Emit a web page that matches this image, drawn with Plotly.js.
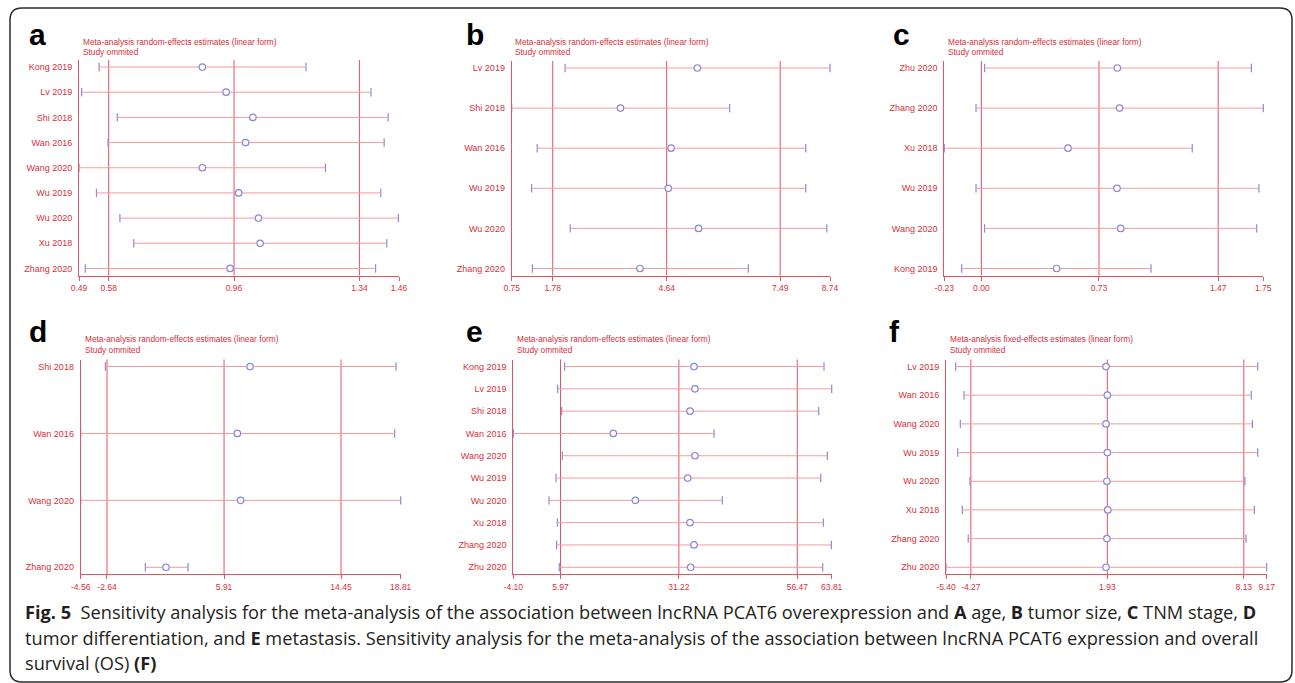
<!DOCTYPE html>
<html><head><meta charset="utf-8">
<script src="https://cdn.plot.ly/plotly-3.0.1.min.js"></script>
<style>html,body{margin:0;padding:0;background:#fff}#chart{width:1295px;height:683px}</style>
</head><body><div id="chart"></div>
<script>
// ---------- DATA ----------
// Panel a: age
const studiesA = ['Kong 2019','Lv 2019','Shi 2018','Wan 2016','Wang 2020','Wu 2019','Wu 2020','Xu 2018','Zhang 2020'];
const estA = [0.864,0.936,1.017,0.995,0.864,0.974,1.034,1.039,0.948];
const loA  = [0.551,0.498,0.606,0.578,0.490,0.543,0.614,0.656,0.509];
const hiA  = [1.178,1.375,1.427,1.415,1.237,1.405,1.458,1.423,1.389];
const ticksA = [0.49,0.58,0.96,1.34,1.46];
const tickTextA = ['0.49','0.58','0.96','1.34','1.46'];
// Panel b: tumor size
const studiesB = ['Lv 2019','Shi 2018','Wan 2016','Wu 2019','Wu 2020','Zhang 2020'];
const estB = [5.41,3.48,4.75,4.68,5.44,3.97];
const loB  = [2.09,0.75,1.39,1.25,2.22,1.27];
const hiB  = [8.74,6.22,8.13,8.13,8.66,6.69];
const ticksB = [0.75,1.78,4.64,7.49,8.74];
const tickTextB = ['0.75','1.78','4.64','7.49','8.74'];
// Panel c: TNM stage
const studiesC = ['Zhu 2020','Zhang 2020','Xu 2018','Wu 2019','Wang 2020','Kong 2019'];
const estC = [0.844,0.858,0.538,0.842,0.865,0.467];
const loC  = [0.020,-0.033,-0.230,-0.033,0.020,-0.122];
const hiC  = [1.676,1.750,1.309,1.723,1.709,1.053];
const ticksC = [-0.23,0.00,0.73,1.47,1.75];
const tickTextC = ['-0.23','0.00','0.73','1.47','1.75'];
// Panel d: tumor differentiation
const studiesD = ['Shi 2018','Wan 2016','Wang 2020','Zhang 2020'];
const estD = [7.81,6.88,7.12,1.67];
const loD  = [-2.76,-4.56,-4.56,0.16];
const hiD  = [18.47,18.37,18.81,3.28];
const ticksD = [-4.56,-2.64,5.91,14.45,18.81];
const tickTextD = ['-4.56','-2.64','5.91','14.45','18.81'];
// Panel e: metastasis
const studiesE = ['Kong 2019','Lv 2019','Shi 2018','Wan 2016','Wang 2020','Wu 2019','Wu 2020','Xu 2018','Zhang 2020','Zhu 2020'];
const estE = [34.44,34.65,33.59,17.23,34.65,33.09,21.93,33.59,34.44,33.73];
const loE  = [6.85,5.36,6.21,-4.10,6.35,5.00,3.51,5.29,5.14,5.71];
const hiE  = [62.17,63.81,61.04,38.71,62.88,61.46,40.49,62.03,63.74,61.89];
const ticksE = [-4.10,5.97,31.22,56.47,63.81];
const tickTextE = ['-4.10','5.97','31.22','56.47','63.81'];
// Panel f: overall survival
const studiesF = ['Lv 2019','Wan 2016','Wang 2020','Wu 2019','Wu 2020','Xu 2018','Zhang 2020','Zhu 2020'];
const estF = [1.87,1.93,1.87,1.93,1.91,1.95,1.91,1.87];
const loF  = [-4.96,-4.58,-4.75,-4.87,-4.31,-4.66,-4.39,-5.40];
const hiF  = [8.76,8.47,8.52,8.76,8.18,8.61,8.23,9.17];
const ticksF = [-5.40,-4.27,1.93,8.13,9.17];
const tickTextF = ['-5.40','-4.27','1.93','8.13','9.17'];

const titleRandom = 'Meta-analysis random-effects estimates (linear form)';
const titleFixed = 'Meta-analysis fixed-effects estimates (linear form)';
const subTitle = 'Study ommited';
const captionLines = [
  '<b>Fig. 5</b>  Sensitivity analysis for the meta-analysis of the association between lncRNA PCAT6 overexpression and <b>A</b> age, <b>B</b> tumor size, <b>C</b> TNM stage, <b>D</b>',
  'tumor differentiation, and <b>E</b> metastasis. Sensitivity analysis for the meta-analysis of the association between lncRNA PCAT6 expression and overall',
  'survival (OS) <b>(F)</b>'
];

// ---------- LAYOUT ----------
const W = 1295, H = 683;
const px = x => x / W, py = y => 1 - y / H;
const RED = '#d6303c', LINE = '#e25563', PINK = '#f09aa2', LAV = '#8e88d4';
const FONT = 'Liberation Sans, Arial, sans-serif';

const panels = [
  {label:'a', title:titleRandom, studies:studiesA, est:estA, lo:loA, hi:hiA, ticks:ticksA, tt:tickTextA, x0:79,    x1:399,    y0:60,  y1:275.5, lx:27,  ly:34,  tx:81,  ty:42},
  {label:'b', title:titleRandom, studies:studiesB, est:estB, lo:loB, hi:hiB, ticks:ticksB, tt:tickTextB, x0:511.7, x1:830,    y0:61,  y1:275.5, lx:464, ly:34,  tx:513, ty:42},
  {label:'c', title:titleRandom, studies:studiesC, est:estC, lo:loC, hi:hiC, ticks:ticksC, tt:tickTextC, x0:944.3, x1:1263.3, y0:61,  y1:275.5, lx:891, ly:34,  tx:946, ty:42},
  {label:'d', title:titleRandom, studies:studiesD, est:estD, lo:loD, hi:hiD, ticks:ticksD, tt:tickTextD, x0:80.7,  x1:400.7,  y0:359.5, y1:574.3, lx:27,  ly:331, tx:83,  ty:339},
  {label:'e', title:titleRandom, studies:studiesE, est:estE, lo:loE, hi:hiE, ticks:ticksE, tt:tickTextE, x0:513.3, x1:831.7,  y0:359.5, y1:574.3, lx:464, ly:331, tx:515, ty:339},
  {label:'f', title:titleFixed,  studies:studiesF, est:estF, lo:loF, hi:hiF, ticks:ticksF, tt:tickTextF, x0:946,   x1:1266.7, y0:359.5, y1:574.3, lx:887, ly:331, tx:948, ty:339}
];

const data = [], annotations = [], shapes = [];
const layout = {
  width: W, height: H, margin: {l:0, r:0, t:0, b:0},
  paper_bgcolor: '#fff', plot_bgcolor: 'rgba(0,0,0,0)',
  showlegend: false, font: {family: FONT, color: RED}
};

panels.forEach((p, i) => {
  const s = i === 0 ? '' : String(i + 1);
  const xa = 'x' + s, ya = 'y' + s;
  const n = p.studies.length;
  const pad = 0.035 * (n - 1);
  layout['xaxis' + s] = {
    domain: [px(p.x0), px(p.x1)], anchor: ya,
    range: [p.ticks[0], p.ticks[p.ticks.length - 1]],
    tickmode: 'array', tickvals: p.ticks, ticktext: p.tt,
    ticks: 'outside', ticklen: 4, tickwidth: 1, tickcolor: LINE,
    showline: true, linecolor: LINE, linewidth: 1,
    showgrid: false, zeroline: false, fixedrange: true,
    tickfont: {family: FONT, size: 8.5, color: RED}
  };
  layout['yaxis' + s] = {
    domain: [py(p.y1), py(p.y0)], anchor: xa,
    type: 'category', categoryorder: 'array', categoryarray: p.studies,
    range: [n - 1 + pad, -pad],
    ticks: '', showline: true, linecolor: LINE, linewidth: 1,
    showgrid: false, zeroline: false, fixedrange: true,
    ticklabelstandoff: 4,
    tickfont: {family: FONT, size: 9, color: RED}
  };
  // reference lines at the three inner tick values
  p.ticks.slice(1, -1).forEach(v => shapes.push({
    type: 'line', xref: xa, yref: ya + ' domain', x0: v, x1: v, y0: 0, y1: 1,
    line: {color: LINE, width: 1}, layer: 'below'
  }));
  // caps at interval ends
  data.push({
    type: 'scatter', mode: 'markers', xaxis: xa, yaxis: ya, cliponaxis: false,
    x: p.lo.concat(p.hi), y: p.studies.concat(p.studies), hoverinfo: 'skip',
    marker: {symbol: 'line-ns-open', size: 6, color: LAV, line: {color: LAV, width: 1.2}}
  });
  // estimates with confidence intervals
  data.push({
    type: 'scatter', mode: 'markers', xaxis: xa, yaxis: ya, cliponaxis: false,
    x: p.est, y: p.studies,
    error_x: {type: 'data', symmetric: false,
      array: p.hi.map((h, k) => h - p.est[k]),
      arrayminus: p.lo.map((l, k) => p.est[k] - l),
      color: PINK, thickness: 1, width: 0},
    marker: {symbol: 'circle', size: 6.5, color: '#ffffff', line: {color: LAV, width: 1.2}}
  });
  // panel letter
  annotations.push({xref:'paper', yref:'paper', x: px(p.lx), y: py(p.ly), xanchor:'left', yanchor:'middle',
    text: '<b>' + p.label + '</b>', showarrow:false, font:{family: FONT, size: 30, color:'#000'}});
  // titles
  annotations.push({xref:'paper', yref:'paper', x: px(p.tx), y: py(p.ty), xanchor:'left', yanchor:'middle',
    text: p.title, showarrow:false, font:{family: FONT, size: 8.3, color: RED}});
  annotations.push({xref:'paper', yref:'paper', x: px(p.tx), y: py(p.ty + 10.5), xanchor:'left', yanchor:'middle',
    text: subTitle, showarrow:false, font:{family: FONT, size: 8.3, color: RED}});
});

// caption
const capY = [612, 638, 663];
captionLines.forEach((t, k) => annotations.push({
  xref:'paper', yref:'paper', x: px(23), y: py(capY[k]), xanchor:'left', yanchor:'middle',
  text: t, showarrow:false, font:{family: 'Open Sans, sans-serif', size: 18.2, color:'#231f20'}
}));

// rounded frame
const L = 10, T = 8, R = 1292, B = 682, r = 12;
const P = (x, y) => px(x).toFixed(5) + ',' + py(y).toFixed(5);
shapes.push({
  type: 'path', xref: 'paper', yref: 'paper', layer: 'above',
  path: 'M' + P(L + r, T) + ' L' + P(R - r, T) + ' Q' + P(R, T) + ' ' + P(R, T + r) +
        ' L' + P(R, B - r) + ' Q' + P(R, B) + ' ' + P(R - r, B) +
        ' L' + P(L + r, B) + ' Q' + P(L, B) + ' ' + P(L, B - r) +
        ' L' + P(L, T + r) + ' Q' + P(L, T) + ' ' + P(L + r, T) + ' Z',
  line: {color: '#2b2b2b', width: 1.5}
});

layout.annotations = annotations;
layout.shapes = shapes;
Plotly.newPlot('chart', data, layout, {displayModeBar: false, staticPlot: true});
</script>
</body></html>
